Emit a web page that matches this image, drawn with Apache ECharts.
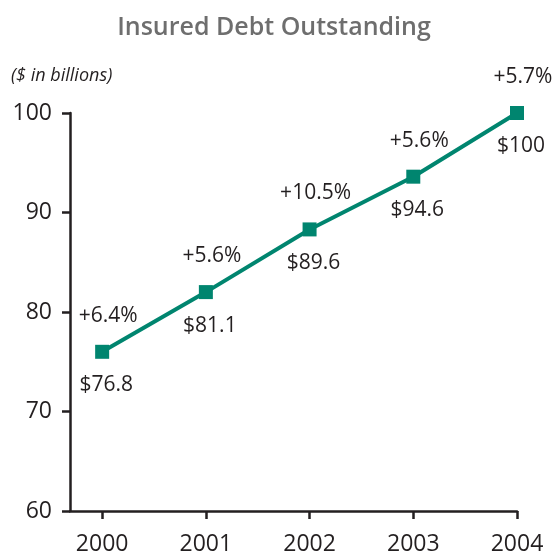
<!DOCTYPE html>
<html><head><meta charset="utf-8">
<script src="https://cdn.jsdelivr.net/npm/echarts@6/dist/echarts.min.js"></script>
<style>html,body{margin:0;padding:0;background:#fff}#c{width:553px;height:552px}</style>
</head><body><div id="c"></div>
<script>
const years = ['2000','2001','2002','2003','2004'];
const debtPlotted = [76.0, 82.0, 88.3, 93.6, 100];
const valueLabels = ['$76.8','$81.1','$89.6','$94.6','$100'];
const growthLabels = ['+6.4%','+5.6%','+10.5%','+5.6%','+5.7%'];
const yTicks = [60, 70, 80, 90, 100];

const font = 'Open Sans';
const teal = '#00856f';
const ink = '#231f20';

const chart = echarts.init(document.getElementById('c'));
chart.setOption({
  animation: false,
  title: {
    text: 'Insured Debt Outstanding',
    left: 269, top: 10, textAlign: 'center',
    textStyle: {fontFamily: font, fontWeight: 600, fontSize: 25, color: '#6e6e6e'}
  },
  graphic: [{
    type: 'text', left: 11, top: 67,
    style: {text: '($ in billions)', font: 'italic 18px "Open Sans"', fill: ink}
  }],
  grid: {left: 70, right: 36, top: 113, bottom: 41, containLabel: false, outerBoundsMode: 'none'},
  xAxis: {
    type: 'value', min: -0.31, max: 4,
    splitLine: {show: false},
    axisLine: {show: true, onZero: false, lineStyle: {color: ink, width: 2.5}},
    axisTick: {show: true, customValues: years.map((y, i) => i), length: 8, lineStyle: {color: ink, width: 2.5}},
    axisLabel: {customValues: years.map((y, i) => i), formatter: v => years[Math.round(v)], margin: 22,
      fontFamily: font, fontSize: 23, color: ink}
  },
  yAxis: {
    type: 'value', min: 60, max: 100, interval: 10,
    splitLine: {show: false},
    axisLine: {show: true, onZero: false, lineStyle: {color: ink, width: 2.5}},
    axisTick: {show: true, length: 8, lineStyle: {color: ink, width: 2.5}},
    axisLabel: {margin: 18, fontFamily: font, fontSize: 23, color: ink,
      formatter: v => yTicks.includes(v) ? String(v) : ''}
  },
  series: [{
    type: 'line',
    data: debtPlotted.map((v, i) => [i, v]),
    symbol: 'rect', symbolSize: 14,
    lineStyle: {color: teal, width: 4},
    itemStyle: {color: teal},
    label: {show: true, position: 'bottom', distance: 16, offset: [4, 0],
      formatter: p => valueLabels[p.dataIndex],
      fontFamily: font, fontSize: 21, color: ink}
  }, {
    type: 'line',
    data: debtPlotted.map((v, i) => [i, v]),
    symbol: 'rect', symbolSize: 1, showSymbol: true,
    itemStyle: {color: 'rgba(0,0,0,0)'},
    lineStyle: {opacity: 0}, silent: true,
    label: {show: true, position: 'top', distance: 25, offset: [6, 0],
      formatter: p => growthLabels[p.dataIndex],
      fontFamily: font, fontSize: 21, color: ink}
  }]
});
</script></body></html>
